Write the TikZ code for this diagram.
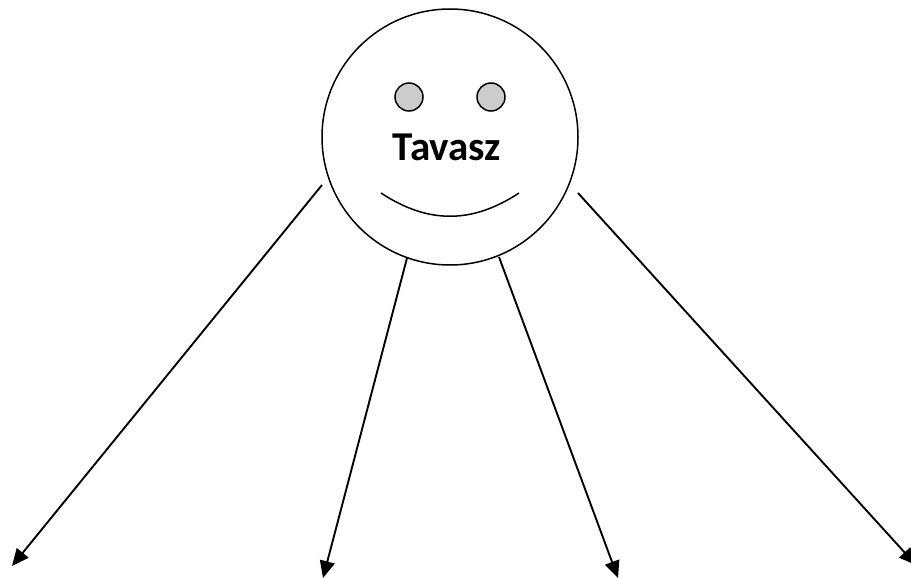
\documentclass[tikz,border=0pt]{standalone}
\usepackage{fontspec}
\setmainfont{Carlito}
\usetikzlibrary{arrows.meta}
\tikzset{
  face/.style={draw=black,line width=1.5pt,circle,minimum size=256pt,inner sep=0pt},
  eye/.style={draw=black,line width=1.5pt,fill=black!20,circle,minimum size=28pt,inner sep=0pt},
  ray/.style={draw=black,line width=1.9pt,-{Triangle[length=17pt,width=15pt]}},
  smile/.style={draw=black,line width=1.5pt}
}
\begin{document}
\begin{tikzpicture}[x=1pt,y=-1pt]
\useasboundingbox (0,0) rectangle (911,578);
\clip (0,0) rectangle (911,578);
\node[face] (head) at (450,137) {};
\node[eye] (eyeL) at (409,97) {};
\node[eye] (eyeR) at (491,97) {};
\node[font=\bfseries\fontsize{41}{48}\selectfont,inner sep=0pt,text=black] (title) at (447,147) {Tavasz};
\coordinate (smileL) at (381,193);
\coordinate (smileR) at (519,193);
\draw[smile] (smileL) .. controls (428,224) and (472,224) .. (smileR);
\coordinate (s1) at (322,185);
\coordinate (s2) at (407,258);
\coordinate (s3) at (499,257);
\coordinate (s4) at (578,193);
\coordinate (e1) at (12,566);
\coordinate (e2) at (323,578);
\coordinate (e3) at (618,578);
\coordinate (e4) at (916,565);
\draw[ray] (s1) -- (e1);
\draw[ray] (s2) -- (e2);
\draw[ray] (s3) -- (e3);
\draw[ray] (s4) -- (e4);
\end{tikzpicture}
\end{document}
